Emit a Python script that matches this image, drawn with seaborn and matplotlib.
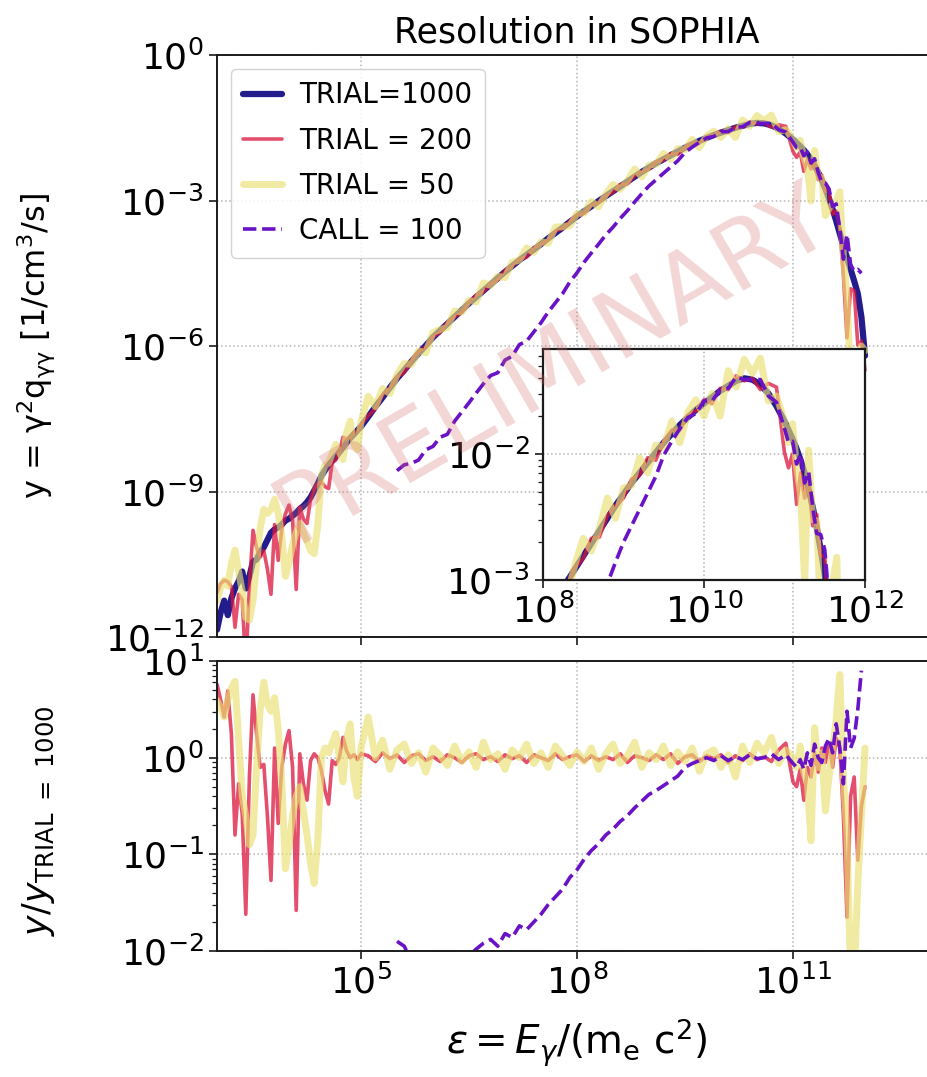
import numpy as np
import pandas as pd
import matplotlib
matplotlib.use("Agg")
import matplotlib.pyplot as plt
import seaborn as sns
from matplotlib.ticker import FixedLocator, NullLocator, LogLocator, NullFormatter

# ---------------- data (log10 values) ----------------
LOG_EPS = [
    3.00, 3.05, 3.10, 3.15, 3.20, 3.25, 3.30, 3.35, 3.40, 3.45,
    3.50, 3.55, 3.60, 3.65, 3.70, 3.75, 3.80, 3.85, 3.90, 3.95,
    4.00, 4.05, 4.10, 4.15, 4.20, 4.25, 4.30, 4.35, 4.40, 4.45,
    4.50, 4.55, 4.60, 4.65, 4.70, 4.75, 4.80, 4.85, 4.90, 4.95,
    5.00,
    5.1, 5.2, 5.3, 5.4, 5.5, 5.6, 5.7, 5.8, 5.9, 6.0,
    6.1, 6.2, 6.3, 6.4, 6.5, 6.6, 6.7, 6.8, 6.9, 7.0,
    7.1, 7.2, 7.3, 7.4, 7.5, 7.6, 7.7, 7.8, 7.9, 8.0,
    8.1, 8.2, 8.3, 8.4, 8.5, 8.6, 8.7, 8.8, 8.9, 9.0,
    9.1, 9.2, 9.3, 9.4, 9.5, 9.6, 9.7, 9.8, 9.9, 10.0,
    10.1, 10.2, 10.3, 10.4, 10.5, 10.6, 10.7, 10.8, 10.9, 11.0,
    11.05, 11.10, 11.15, 11.20, 11.25, 11.30, 11.35, 11.40, 11.45, 11.50,
    11.55, 11.60, 11.65, 11.70, 11.75, 11.80, 11.85, 11.90, 11.95, 12.00,
]

# TRIAL = 1000 spectrum, log10(y)
LOG_Y1000 = [
    -11.85, -11.50, -11.25, -11.55, -11.20, -11.00, -10.85, -10.65, -11.00, -10.75,
    -10.45, -10.40, -10.25, -10.15, -10.00, -9.85, -9.78, -9.74, -9.68, -9.60,
    -9.56, -9.50, -9.44, -9.36, -9.30, -9.22, -9.12, -8.98, -8.84, -8.68,
    -8.56, -8.46, -8.37, -8.28, -8.19, -8.09, -7.99, -7.90, -7.82, -7.74,
    -7.66,
    -7.46, -7.25, -7.06, -6.86, -6.67, -6.50, -6.32, -6.15, -5.99, -5.82,
    -5.68, -5.54, -5.40, -5.26, -5.12, -4.99, -4.86, -4.73, -4.60, -4.47,
    -4.35, -4.23, -4.12, -4.01, -3.90, -3.78, -3.67, -3.56, -3.44, -3.33,
    -3.22, -3.12, -3.01, -2.91, -2.81, -2.71, -2.61, -2.51, -2.41, -2.32,
    -2.23, -2.15, -2.07, -1.99, -1.91, -1.84, -1.77, -1.71, -1.65, -1.60,
    -1.55, -1.50, -1.46, -1.42, -1.40, -1.41, -1.45, -1.52, -1.62, -1.74,
    -1.81, -1.88, -1.96, -2.05, -2.15, -2.28, -2.42, -2.58, -2.76, -2.96,
    -3.18, -3.42, -3.68, -3.94, -4.18, -4.42, -4.66, -4.92, -5.40, -6.20,
]

# log10 ratio TRIAL = 200 / TRIAL = 1000
LOG_R200 = [
    0.76, 0.60, 0.42, 0.69, 0.24, -0.80, -0.27, -0.58, -1.62, -0.20,
    0.65, 0.24, -0.10, -0.07, -0.60, -1.27, 0.10, -0.68, -0.10, 0.14,
    0.28, -0.10, -1.58, 0.04, -0.27, -0.44, -0.03, 0.04, 0.00, -0.13,
    -0.34, -0.48, -0.03, -0.07, 0.00, 0.21, 0.07, 0.00, 0.03, -0.02,
    0.04,
    0.02, -0.04, 0.05, -0.01, 0.03, -0.05, 0.02, 0.04, -0.03, 0.01,
    -0.04, 0.03, 0.00, -0.05, 0.02, 0.04, -0.02, 0.01, -0.04, 0.03,
    -0.01, 0.02, -0.05, 0.03, 0.00, -0.03, 0.04, -0.02, 0.01, 0.03,
    -0.04, 0.02, -0.03, 0.01, -0.02, 0.04, -0.05, 0.02, 0.00, -0.03,
    0.03, -0.02, 0.04, -0.06, 0.01, 0.03, -0.04, 0.02, -0.01, 0.03,
    -0.05, 0.02, -0.03, 0.04, -0.02, 0.01, -0.04, 0.08, 0.15, -0.25,
    -0.30, -0.12, -0.44, -0.10, -0.20, 0.05, -0.15, 0.10, -0.05, 0.15,
    -0.10, 0.20, 0.10, -0.60, -1.65, -0.40, -0.20, -1.06, -0.50, -0.30,
]

# log10 ratio TRIAL = 50 / TRIAL = 1000
LOG_R50 = [
    0.59, 0.52, 0.42, 0.60, 0.72, 0.79, 0.20, -0.40, -0.60, -0.90,
    -0.80, -0.10, 0.50, 0.78, 0.55, 0.48, 0.62, 0.30, -0.25, -1.15,
    -0.90, -0.60, -0.40, -0.30, -0.55, -0.80, -1.10, -1.30, -0.85, 0.00,
    0.10, 0.05, 0.15, 0.25, 0.00, -0.25, 0.20, 0.35, -0.20, -0.40,
    0.10,
    0.42, 0.00, 0.18, -0.12, 0.08, 0.14, -0.06, 0.05, -0.15, 0.10,
    0.02, -0.08, 0.12, -0.04, 0.06, -0.10, 0.16, -0.02, 0.04, -0.12,
    0.08, 0.00, 0.14, -0.06, 0.05, -0.10, 0.12, 0.02, -0.08, 0.06,
    -0.04, 0.10, -0.12, 0.04, 0.14, -0.06, 0.02, 0.16, -0.10, 0.05,
    -0.02, 0.12, -0.08, 0.06, -0.04, 0.10, -0.14, 0.04, 0.08, -0.10,
    0.03, -0.20, 0.12, -0.05, 0.15, 0.05, 0.21, -0.06, 0.08, 0.00,
    -0.10, 0.12, -0.15, -0.27, -0.86, 0.31, -0.10, 0.05, -0.55, -0.20,
    0.10, 0.40, 0.86, -0.20, -0.80, -2.30, -2.30, -1.30, -0.60, 0.10,
]

# log10 ratio CALL = 100 / TRIAL = 1000 (nan where absent)
NA = float("nan")
LOG_RCALL = [
    NA, NA, NA, NA, NA, NA, NA, NA, NA, NA,
    NA, NA, NA, NA, NA, NA, NA, NA, NA, NA,
    NA, NA, NA, NA, NA, NA, NA, NA, NA, NA,
    NA, NA, NA, NA, NA, NA, NA, NA, NA, NA,
    NA,
    NA, NA, NA, NA, -1.90, -1.95, -2.10, -2.20, -2.15, -2.25,
    -2.20, -2.28, -2.15, -2.10, -2.05, -1.98, -1.92, -1.88, -1.95, -1.82,
    -1.86, -1.74, -1.78, -1.70, -1.62, -1.52, -1.44, -1.36, -1.24, -1.16,
    -1.05, -0.96, -0.89, -0.80, -0.74, -0.66, -0.60, -0.52, -0.45, -0.38,
    -0.34, -0.29, -0.24, -0.19, -0.10, -0.06, -0.03, 0.00, -0.03, 0.02,
    -0.03, 0.01, -0.02, 0.03, -0.01, 0.00, 0.04, -0.02, 0.03, -0.06,
    -0.10, -0.02, -0.12, 0.05, -0.08, 0.14, 0.00, -0.05, 0.12, 0.20,
    0.05, 0.35, 0.10, -0.27, 0.48, 0.10, 0.20, 0.50, 0.90, NA,
]

LABELS = ["TRIAL=1000", "TRIAL = 200", "TRIAL = 50", "CALL = 100"]
COLORS = ["#221c8c", "#dc143c", "#e9e070", "#6a12c6"]

# ---------------- derived series ----------------
eps = 10.0 ** np.array(LOG_EPS)
y1000 = 10.0 ** np.array(LOG_Y1000)
ratios = {
    LABELS[1]: 10.0 ** np.array(LOG_R200),
    LABELS[2]: 10.0 ** np.array(LOG_R50),
    LABELS[3]: 10.0 ** np.array(LOG_RCALL),
}
spectra = {LABELS[0]: y1000}
for k, r in ratios.items():
    spectra[k] = y1000 * r

STYLE = {
    LABELS[0]: dict(lw=4.5, alpha=1.0, ls="-"),
    LABELS[1]: dict(lw=2.6, alpha=0.75, ls="-"),
    LABELS[2]: dict(lw=5.0, alpha=0.65, ls="-"),
    LABELS[3]: dict(lw=2.6, alpha=1.0, ls="--"),
}
CMAP = dict(zip(LABELS, COLORS))

# ---------------- styling ----------------
sns.set_style("ticks")
plt.rcParams["font.family"] = ["DejaVu Sans"]
plt.rcParams["mathtext.fontset"] = "dejavusans"
plt.rcParams["axes.edgecolor"] = "#1a1a1a"
plt.rcParams["axes.linewidth"] = 1.4
plt.rcParams["text.color"] = "black"
plt.rcParams["axes.labelcolor"] = "black"
plt.rcParams["axes.titlecolor"] = "black"
plt.rcParams["xtick.color"] = "black"
plt.rcParams["ytick.color"] = "black"
plt.rcParams["xtick.labelcolor"] = "black"
plt.rcParams["ytick.labelcolor"] = "black"

fig = plt.figure(figsize=(9.28, 10.77), dpi=100)
W, H = 928.0, 1077.0


def fx(px):
    return px / W


def fy(py):
    return 1 - py / H


ax_top = fig.add_axes([fx(217), fy(637), fx(937) - fx(217), fy(55) - fy(637)])
ax_bot = fig.add_axes([fx(217), fy(951), fx(937) - fx(217), fy(661) - fy(951)])
ax_in = fig.add_axes([fx(543), fy(580), fx(865) - fx(543), fy(349) - fy(580)])


def draw(ax, data, labels, with_label=False):
    for lab in labels:
        st = STYLE[lab]
        df = pd.DataFrame({"eps": eps, "val": data[lab]}).dropna()
        sns.lineplot(data=df, x="eps", y="val", ax=ax, color=CMAP[lab],
                     lw=st["lw"], alpha=st["alpha"], linestyle=st["ls"],
                     estimator=None, sort=False,
                     label=lab if with_label else None, legend=False)


draw(ax_top, spectra, LABELS, with_label=True)
draw(ax_in, spectra, LABELS)
draw(ax_bot, ratios, LABELS[1:])

grid_kw = dict(ls=":", color="#b5b5b5", lw=1.1)
for ax in (ax_top, ax_bot, ax_in):
    ax.set_xscale("log")
    ax.set_yscale("log")
    ax.grid(True, which="major", **grid_kw)
    ax.tick_params(axis="both", which="major", labelsize=26, length=6,
                   width=1.2, direction="out", color="#1a1a1a",
                   labelcolor="black")
    ax.tick_params(axis="both", which="minor", length=3.5, width=0.9,
                   direction="out", color="#1a1a1a")
    ax.set_xlabel("")
    ax.set_ylabel("")

# top panel
ax_top.set_xlim(1e3, 1e13)
ax_top.set_ylim(1e-12, 1e0)
ax_top.xaxis.set_major_locator(FixedLocator([1e5, 1e8, 1e11]))
ax_top.xaxis.set_minor_locator(NullLocator())
ax_top.yaxis.set_major_locator(FixedLocator([1e-12, 1e-9, 1e-6, 1e-3, 1e0]))
ax_top.yaxis.set_minor_locator(NullLocator())
ax_top.tick_params(labelbottom=False)
ax_top.set_title("Resolution in SOPHIA", fontsize=25, pad=9)
ax_top.set_ylabel(r"y = $\mathregular{\gamma^2q_{\gamma\gamma}}$ [1/cm$^3$/s]",
                  fontsize=23)
ax_top.yaxis.set_label_coords(-0.222, 0.5)

leg = ax_top.legend(loc="upper left", fontsize=20, handlelength=1.4,
                    labelspacing=0.62, borderpad=0.45, handletextpad=0.6,
                    framealpha=0.85, fancybox=True)
leg.get_frame().set_edgecolor("#cccccc")
leg.get_frame().set_linewidth(1.0)
for t in leg.get_texts():
    t.set_color("black")

# inset
ax_in.set_facecolor("white")
ax_in.set_xlim(1e8, 1e12)
ax_in.set_ylim(1e-3, 6.8e-2)
ax_in.xaxis.set_major_locator(FixedLocator([1e8, 1e10, 1e12]))
ax_in.xaxis.set_minor_locator(NullLocator())
ax_in.yaxis.set_major_locator(FixedLocator([1e-3, 1e-2]))
ax_in.yaxis.set_minor_locator(LogLocator(base=10, subs=np.arange(2, 10), numticks=20))
ax_in.yaxis.set_minor_formatter(NullFormatter())
for s in ax_in.spines.values():
    s.set_linewidth(1.6)

# bottom panel
ax_bot.set_xlim(1e3, 1e13)
ax_bot.set_ylim(1e-2, 1e1)
ax_bot.xaxis.set_major_locator(FixedLocator([1e5, 1e8, 1e11]))
ax_bot.xaxis.set_minor_locator(NullLocator())
ax_bot.yaxis.set_major_locator(FixedLocator([1e-2, 1e-1, 1e0, 1e1]))
ax_bot.yaxis.set_minor_locator(LogLocator(base=10, subs=np.arange(2, 10), numticks=20))
ax_bot.yaxis.set_minor_formatter(NullFormatter())
ax_bot.set_ylabel(r"$y/y_{\mathrm{TRIAL\ =\ 1000}}$", fontsize=25)
ax_bot.yaxis.set_label_coords(-0.222, 0.45)
ax_bot.set_xlabel(r"$\varepsilon = E_\gamma/(\mathrm{m_e\ c^2})$", fontsize=28,
                  labelpad=12)

# watermark
fig.text(fx(553), fy(365), "PRELIMINARY", rotation=30, fontsize=68,
         color="#d46a6a", alpha=0.28, ha="center", va="center", zorder=100)

fig.savefig("out.png", dpi=100)
